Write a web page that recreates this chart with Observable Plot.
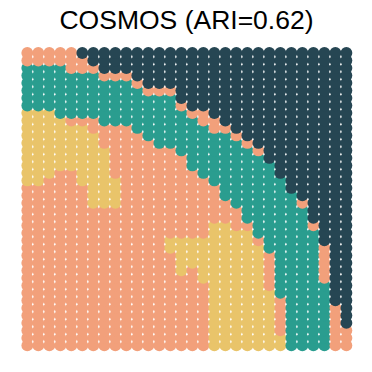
<!DOCTYPE html>
<html>
<head>
<meta charset="utf-8">
<script src="https://cdn.jsdelivr.net/npm/d3@7"></script>
<script src="https://cdn.jsdelivr.net/npm/@observablehq/plot@0.6"></script>
<style>
  html, body { margin: 0; padding: 0; background: #fff; }
</style>
</head>
<body>
<div id="chart"></div>
<script>
const title = "COSMOS (ARI=0.62)";
const clusterKeys = ["N", "T", "Y", "O"];
const clusterColors = ["#264653", "#2a9d8f", "#e9c46a", "#f2a07b"];
const nRows = 40;
// one run-length string per column (left to right), runs read from top to bottom
const columnRuns = [
  "O2 T6 Y10 O22",
  "O2 T6 Y10 O22",
  "O2 T6 Y9 O23",
  "O2 T7 Y7 O24",
  "O3 T6 O1 Y6 O24",
  "N1 O2 T6 O1 Y8 O22",
  "N2 O1 T6 O2 Y10 O19",
  "N3 O1 T6 O3 Y8 O19",
  "N3 O1 T6 O7 Y4 O19",
  "N3 O1 T6 O30",
  "N4 O1 T6 O29",
  "N5 O1 T6 O28",
  "N5 O1 T7 O27",
  "N5 O1 T7 O12 Y2 O13",
  "N7 O1 T6 O11 Y5 O10",
  "N8 O1 T7 O9 Y4 O11",
  "N8 O2 T7 O8 Y6 O9",
  "N9 O2 T7 O5 Y17",
  "N10 O1 T9 O3 Y17",
  "N11 O1 T9 O3 Y16",
  "N12 O1 T10 O1 Y16",
  "N13 O1 T11 O1 Y14",
  "N15 T12 O5 Y8",
  "N17 T16 O5 Y2",
  "N19 T21",
  "N20 O1 T19",
  "N23 O1 T16",
  "N26 O5 T9",
  "N34 O6",
  "N37 O3"
];

const spots = [];
columnRuns.forEach((runs, col) => {
  let row = 0;
  runs.split(" ").forEach(tok => {
    const key = tok[0];
    const n = +tok.slice(1);
    for (let i = 0; i < n; i++) spots.push({col, row: row++, cluster: key});
  });
  if (row !== nRows) console.error("column", col, "has", row, "rows");
});
// draw bottom rows first so upper spots overlap the ones below
spots.sort((a, b) => b.row - a.row || a.col - b.col);

const chart = Plot.plot({
  width: 372,
  height: 372,
  margin: 0,
  style: {background: "#fff", fontFamily: "Liberation Sans, Arial, sans-serif"},
  x: {domain: [0, columnRuns.length - 1], range: [26.8, 345.9], axis: null},
  y: {domain: [0, nRows - 1], range: [52.5, 344.9], axis: null},
  color: {domain: clusterKeys, range: clusterColors},
  marks: [
    Plot.dot(spots, {x: "col", y: "row", r: 5.9, fill: "cluster", stroke: null}),
    Plot.text([title], {frameAnchor: "top", dy: 20, text: d => d, fontSize: 26.5, fill: "#000", lineAnchor: "middle"})
  ]
});
document.getElementById("chart").appendChild(chart);
</script>
</body>
</html>
